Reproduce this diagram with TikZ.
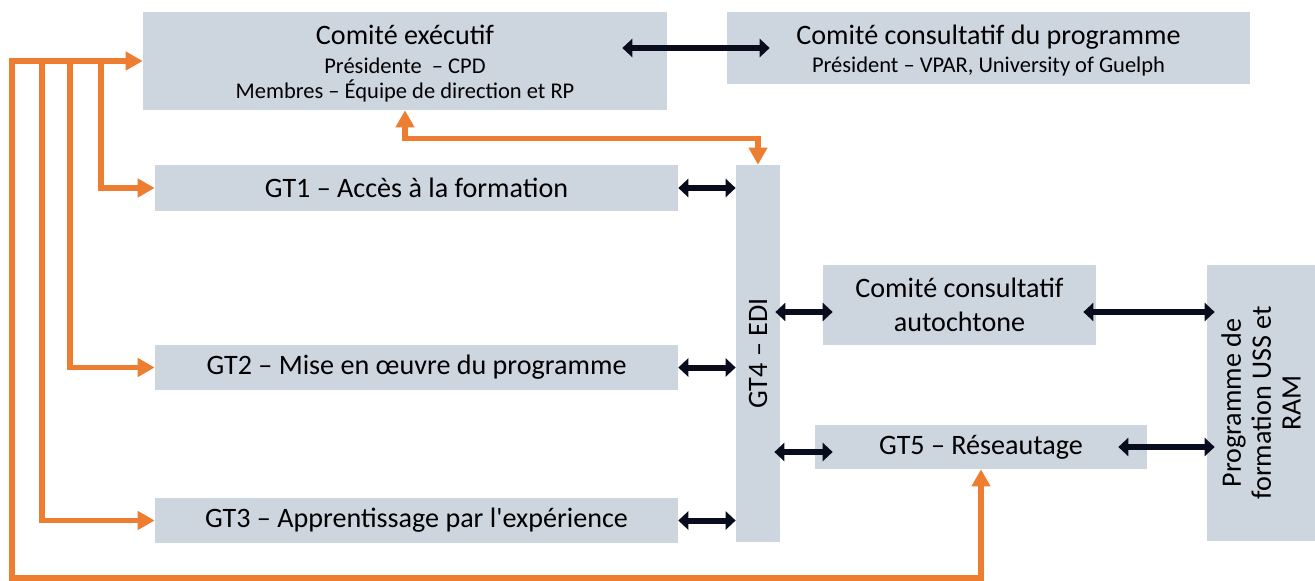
\documentclass[tikz,border=0pt]{standalone}
\usepackage{fontspec}
\setmainfont{Carlito}
\usetikzlibrary{arrows.meta,calc}
\definecolor{boxc}{RGB}{205,213,223}
\definecolor{orng}{RGB}{237,125,49}
\definecolor{darkarr}{RGB}{8,12,28}
\tikzset{
  box/.style={fill=boxc, inner sep=0pt, align=center, font=\fontsize{16}{19}\selectfont},
  txt/.style={inner sep=0pt, align=center, font=\fontsize{16}{19}\selectfont},
  small/.style={font=\fontsize{12.8}{15}\selectfont},
  barrow/.style={draw=darkarr, line width=0.12cm, {Triangle[length=0.2cm,width=0.36cm]}-{Triangle[length=0.2cm,width=0.36cm]}},
  oarrow/.style={draw=orng, line width=0.11cm, -{Triangle[length=0.34cm,width=0.36cm]}},
  oboth/.style={draw=orng, line width=0.11cm, {Triangle[length=0.34cm,width=0.36cm]}-{Triangle[length=0.34cm,width=0.36cm]}},
}
\begin{document}
\begin{tikzpicture}[x=0.02cm,y=-0.02cm]
\useasboundingbox (0,0) rectangle (1315,581);
% boxes
\node[box, minimum width=10.48cm, minimum height=1.96cm] (exec) at (405,61) {};
\node[txt, anchor=base] (exect) at (405,45) {Comité exécutif};
\node[txt, small, anchor=base] (execa) at (405,74) {Présidente \ – CPD};
\node[txt, small, anchor=base] (execb) at (405,99) {Membres – Équipe de direction et RP};
\node[box, minimum width=10.46cm, minimum height=1.44cm] (cons) at (988.5,48) {};
\node[txt, anchor=base] (const) at (988.5,45) {Comité consultatif du programme};
\node[txt, small, anchor=base] (consa) at (988.5,73) {Président – VPAR, University of Guelph};
\node[box, minimum width=10.46cm, minimum height=0.92cm] (gt1) at (416.5,188) {GT1 – Accès à la formation};
\node[box, minimum width=10.46cm, minimum height=0.9cm] (gt2) at (416.5,367.5) {GT2 – Mise en œuvre du programme};
\node[box, minimum width=10.46cm, minimum height=0.9cm] (gt3) at (416.5,520.5) {GT3 – Apprentissage par l\textquotesingle expérience};
\node[box, minimum width=0.88cm, minimum height=7.54cm] (gt4) at (758,353.5) {};
\node[txt, rotate=90] (gt4t) at (gt4.center) {GT4 – EDI};
\node[box, minimum width=5.46cm, minimum height=1.6cm] (auto) at (959.5,305) {Comité consultatif\\autochtone};
\node[box, minimum width=6.64cm, minimum height=0.88cm] (gt5) at (981,447) {GT5 – Réseautage};
\node[box, minimum width=2.16cm, minimum height=5.52cm] (prog) at (1261,403) {};
\node[txt, rotate=90, font=\fontsize{16}{17}\selectfont] (progt) at (prog.center) {Programme de\\formation USS et\\RAM};
% black double arrows
\draw[barrow, shorten <=-0.9cm, shorten >=-0.86cm] (exec.east |- cons.west) -- (cons.west);
\draw[barrow] (gt1.east) -- (gt1.east -| gt4.west);
\draw[barrow] (gt2.east) -- (gt2.east -| gt4.west);
\draw[barrow] (gt3.east) -- (gt3.east -| gt4.west);
\draw[barrow, shorten <=-0.1cm, shorten >=-0.2cm] ([yshift=-0.14cm]auto.west -| gt4.east) -- ([yshift=-0.14cm]auto.west);
\draw[barrow, shorten <=-0.12cm, shorten >=-0.36cm] ([yshift=-0.1cm]gt5.west -| gt4.east) -- ([yshift=-0.1cm]gt5.west);
\draw[barrow, shorten <=-0.26cm, shorten >=-0.16cm] ([yshift=-0.14cm]auto.east) -- ([yshift=-0.14cm]auto.east -| prog.west);
\draw[barrow, shorten <=-0.58cm, shorten >=-0.16cm] (gt5.east) -- (gt5.east -| prog.west);
% orange connectors
\coordinate (bl) at (12,578);
\coordinate (b1) at (101,61);
\coordinate (b2) at (70,61);
\coordinate (b3) at (42,61);
\draw[oboth] (gt5.south) |- (bl) |- (exec.west);
\draw[oarrow] (b1) |- (gt1.west);
\draw[oarrow] (b2) |- (gt2.west);
\draw[oarrow] (b3) |- (gt3.west);
\draw[oboth] (exec.south) -- ++(0,28) -| (gt4.north);
\end{tikzpicture}
\end{document}
